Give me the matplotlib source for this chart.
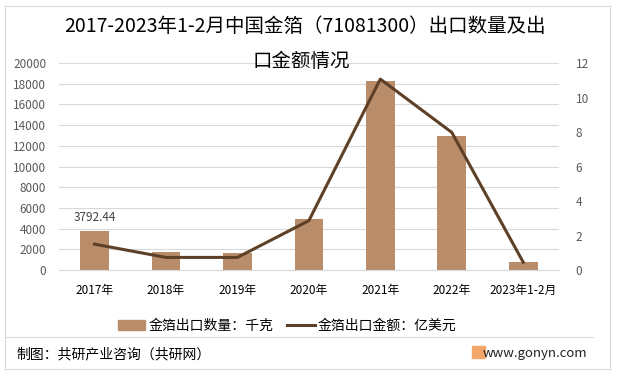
import numpy as np
import matplotlib.pyplot as plt
from matplotlib.patches import Rectangle
from matplotlib.lines import Line2D

plt.rcParams['font.family'] = ['Noto Sans CJK SC', 'DejaVu Sans']

years = ['2017年', '2018年', '2019年', '2020年', '2021年', '2022年', '2023年1-2月']
qty = [3792.44, 1740, 1640, 4930, 18260, 12950, 770]      # 千克
amount = [1.50, 0.73, 0.73, 2.86, 11.07, 7.98, 0.45]      # 亿美元

bar_color = '#B98C6A'
line_color = '#5E4027'
tick_color = '#595959'

fig = plt.figure(figsize=(6.21, 3.79), dpi=100)
ax = fig.add_axes([0.0946, 0.2876, 0.8055, 0.546])
ax2 = ax.twinx()

x = np.arange(len(years))
ax.bar(x, qty, width=0.4, color=bar_color, zorder=2)
ax2.plot(x, amount, color=line_color, lw=2.2, zorder=3)

ax.set_xlim(-0.5, len(years) - 0.5)
ax.set_ylim(0, 20000)
ax.set_yticks(np.arange(0, 20001, 2000))
ax2.set_ylim(0, 12)
ax2.set_yticks(np.arange(0, 13, 2))
ax.grid(axis='y', color='#D9D9D9', lw=0.8, zorder=0)
ax.set_axisbelow(True)

ax.set_xticks(x)
ax.set_xticklabels(years)
for a in (ax, ax2):
    for s in a.spines.values():
        s.set_visible(False)
    a.tick_params(length=0, labelsize=8.5, labelcolor=tick_color)
ax.tick_params(axis='x', pad=10, labelcolor='#000000')
ax.tick_params(axis='y', pad=9)
ax2.tick_params(axis='y', pad=12)
ax.spines['bottom'].set_visible(True)
ax.spines['bottom'].set_color('#D9D9D9')

ax.text(x[0], qty[0] + 700, f'{qty[0]:.2f}', ha='center', va='bottom',
        fontsize=8.5, color='#404040')

fig.text(0.491, 0.929, '2017-2023年1-2月中国金箔（71081300）出口数量及出',
         ha='center', va='center', fontsize=14)
fig.text(0.485, 0.839, '口金额情况', ha='center', va='center', fontsize=14)

handles = [Rectangle((0, 0), 1, 1, color=bar_color),
           Line2D([], [], color=line_color, lw=2.2)]
fig.legend(handles, ['金箔出口数量：千克', '金箔出口金额：亿美元'],
           loc='center', bbox_to_anchor=(0.462, 0.14), ncol=2, frameon=False,
           fontsize=10, handlelength=2.0, handleheight=0.7, columnspacing=1.0,
           handletextpad=0.2)

fig.add_artist(Line2D([0.008, 0.955], [0.111, 0.111], color='#D9D9D9', lw=0.8,
                      transform=fig.transFigure))
fig.add_artist(Rectangle((0.008, 0.026), 0.974, 0.958, fill=False,
                         edgecolor='#D9D9D9', lw=0.8, transform=fig.transFigure))
fig.text(0.027, 0.066, '制图：共研产业咨询（共研网）', ha='left', va='center',
         fontsize=10)
fig.add_artist(Rectangle((0.760, 0.055), 0.021, 0.032, color='#F2A66A',
                         transform=fig.transFigure))
fig.text(0.945, 0.066, 'www.gonyn.com', ha='right', va='center', fontsize=9.5,
         color='#222222')

fig.savefig('out.png', dpi=100)
